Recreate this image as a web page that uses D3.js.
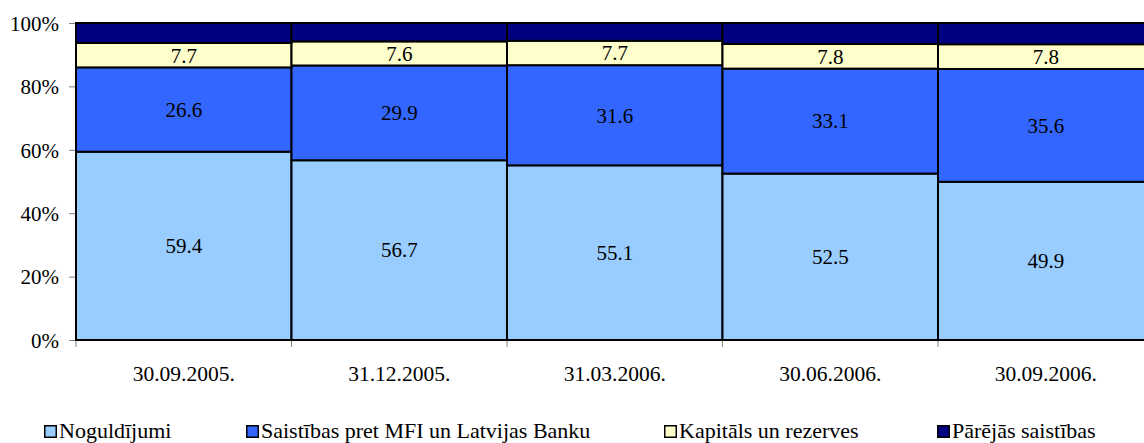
<!DOCTYPE html>
<html>
<head>
<meta charset="utf-8">
<script src="https://cdn.jsdelivr.net/npm/d3@7"></script>
</head>
<body style="margin:0;background:#fff">
<script>
var categories = ["30.09.2005.", "31.12.2005.", "31.03.2006.", "30.06.2006.", "30.09.2006."];
var seriesNames = ["Noguldījumi", "Saistības pret MFI un Latvijas Banku", "Kapitāls un rezerves", "Pārējās saistības"];
var noguldijumi = [59.4, 56.7, 55.1, 52.5, 49.9];
var saistibasMFI = [26.6, 29.9, 31.6, 33.1, 35.6];
var kapitals = [7.7, 7.6, 7.7, 7.8, 7.8];
var parejas = [6.3, 5.8, 5.6, 6.6, 6.7];
var yTicks = [0, 20, 40, 60, 80, 100];
var colors = ["#99CCFF", "#3366FF", "#FFFFCC", "#000080"];
var labelled = [true, true, true, false];

var FONT = "Liberation Serif";
var width = 1144, height = 443;
var margin = { top: 23, left: 76 };
var plotRight = 1153.5;
var plotBottom = 340;

var rows = categories.map(function (c, i) {
    return {
        cat: c,
        s0: noguldijumi[i],
        s1: saistibasMFI[i],
        s2: kapitals[i],
        s3: parejas[i]
    };
});
var keys = ["s0", "s1", "s2", "s3"];

var svg = d3.select("body").append("svg")
    .attr("width", width)
    .attr("height", height)
    .style("display", "block");

var x = d3.scaleBand()
    .domain(categories)
    .range([margin.left, plotRight])
    .padding(0);

var y = d3.scaleLinear()
    .domain([0, 100])
    .range([plotBottom, margin.top]);

var stacked = d3.stack().keys(keys)(rows);

// y axis
var yAxis = svg.append("g")
    .attr("transform", "translate(" + margin.left + ",0)")
    .call(d3.axisLeft(y).tickValues(yTicks).tickSize(7).tickPadding(10)
        .tickFormat(function (d) { return d + "%"; }));
yAxis.attr("font-family", FONT).attr("font-size", 21);
yAxis.selectAll("line, path").attr("stroke", "#808080");
yAxis.selectAll("text")
    .attr("fill", "#000")
    .attr("font-family", FONT)
    .attr("font-size", 21)
    .attr("dy", "0.35em");

// bars
var layers = svg.append("g").selectAll("g")
    .data(stacked)
    .enter().append("g")
    .attr("fill", function (d, i) { return colors[i]; });

layers.selectAll("rect")
    .data(function (d) { return d; })
    .enter().append("rect")
    .attr("x", function (d) { return x(d.data.cat); })
    .attr("width", x.bandwidth())
    .attr("y", function (d) { return y(d[1]); })
    .attr("height", function (d) { return y(d[0]) - y(d[1]); })
    .attr("stroke", "#000")
    .attr("stroke-width", 2);

// value labels
stacked.forEach(function (layer, li) {
    if (!labelled[li]) return;
    svg.append("g").selectAll("text")
        .data(layer)
        .enter().append("text")
        .attr("x", function (d) { return x(d.data.cat) + x.bandwidth() / 2; })
        .attr("y", function (d) { return y((d[0] + d[1]) / 2); })
        .attr("dy", "0.35em")
        .attr("text-anchor", "middle")
        .attr("font-family", FONT)
        .attr("font-size", 21)
        .attr("fill", "#000")
        .text(function (d) { return d.data[keys[li]].toFixed(1); });
});

// x axis: ticks at category boundaries
var xg = svg.append("g");
xg.append("line")
    .attr("x1", margin.left).attr("x2", plotRight)
    .attr("y1", plotBottom).attr("y2", plotBottom)
    .attr("stroke", "#000").attr("stroke-width", 2);
xg.selectAll("line.tick")
    .data(categories.concat([null]))
    .enter().append("line")
    .attr("class", "tick")
    .attr("x1", function (d, i) { return margin.left + i * x.bandwidth(); })
    .attr("x2", function (d, i) { return margin.left + i * x.bandwidth(); })
    .attr("y1", plotBottom + 1)
    .attr("y2", plotBottom + 7)
    .attr("stroke", "#808080");
xg.selectAll("text")
    .data(categories)
    .enter().append("text")
    .attr("x", function (d) { return x(d) + x.bandwidth() / 2; })
    .attr("y", 381)
    .attr("text-anchor", "middle")
    .attr("font-family", FONT)
    .attr("font-size", 21.5)
    .text(function (d) { return d; });

// legend
var legendX = [44, 246, 664, 937];
var legend = svg.append("g").selectAll("g")
    .data(seriesNames)
    .enter().append("g")
    .attr("transform", function (d, i) { return "translate(" + legendX[i] + ",0)"; });
legend.append("rect")
    .attr("x", 0.75).attr("y", 425.75)
    .attr("width", 11.5).attr("height", 11.5)
    .attr("fill", function (d, i) { return colors[i]; })
    .attr("stroke", "#000").attr("stroke-width", 1.5);
legend.append("text")
    .attr("x", 15)
    .attr("y", 438)
    .attr("font-family", FONT)
    .attr("font-size", 22)
    .text(function (d) { return d; });
</script>
</body>
</html>
